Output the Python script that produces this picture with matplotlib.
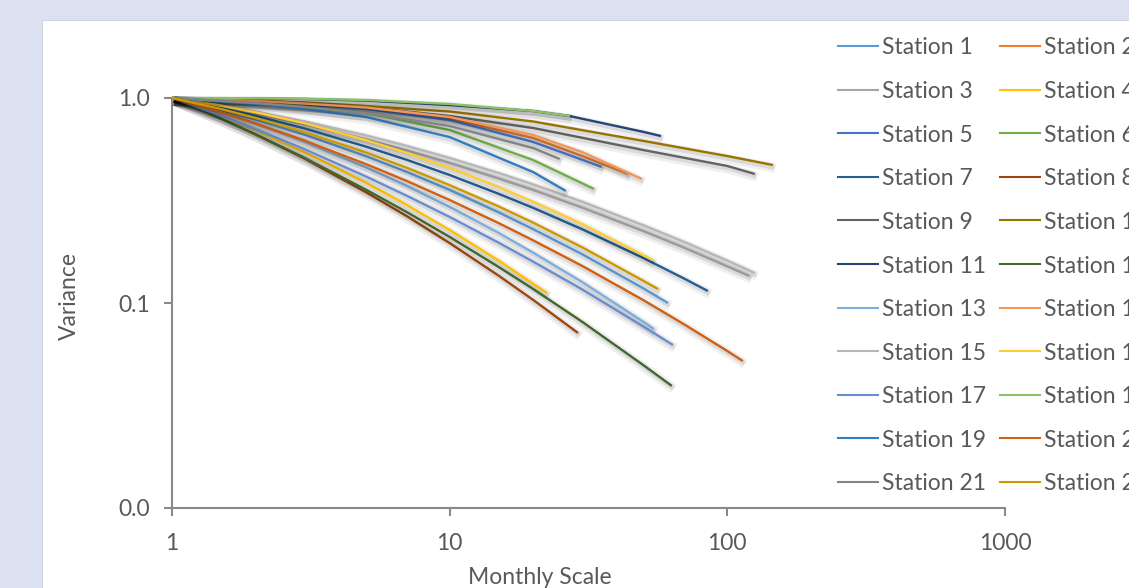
import matplotlib
matplotlib.use("Agg")
import matplotlib.pyplot as plt
from matplotlib import patheffects as pe
from matplotlib.lines import Line2D
from matplotlib.patches import Rectangle
from matplotlib.ticker import FixedLocator, FixedFormatter, NullLocator

plt.rcParams['font.family'] = ['Lato', 'DejaVu Sans']

# ---- data: variance of aggregated series versus monthly scale ----
station_labels = [f"Station {i}" for i in range(1, 23)]

station_colors = [
    "#5B9BD5", "#ED7D31", "#A5A5A5", "#FFC000", "#4472C4", "#70AD47",
    "#255E91", "#9E480E", "#636363", "#997300", "#264478", "#43682B",
    "#7CAFDD", "#F1975A", "#B7B7B7", "#FFCD33", "#698ED0", "#8CC168",
    "#327DC2", "#D26012", "#848484", "#CC9A00",
]

s01_scale = [1, 1.5, 2, 3, 5, 7, 10, 15, 20, 30, 50, 61.1]
s01_var = [1, 0.874, 0.785, 0.663, 0.520, 0.436, 0.356, 0.277, 0.229, 0.173, 0.1175, 0.100]
s02_scale = [1, 2, 3, 5, 10, 20, 30, 44]
s02_var = [1, 0.965, 0.935, 0.894, 0.794, 0.638, 0.521, 0.426]
s03_scale = [1, 1.5, 2, 3, 5, 7, 10, 15, 20, 30, 50, 70, 100, 120]
s03_var = [1, 0.907, 0.840, 0.745, 0.628, 0.555, 0.482, 0.405, 0.356, 0.292, 0.224, 0.186, 0.151, 0.1355]
s04_scale = [1, 1.5, 2, 3, 5, 7, 10, 15, 20, 22.4]
s04_var = [1, 0.816, 0.697, 0.5445, 0.386, 0.301, 0.227, 0.161, 0.124, 0.112]
s05_scale = [1, 2, 3, 5, 10, 20, 35.3]
s05_var = [1, 0.961, 0.930, 0.884, 0.781, 0.610, 0.461]
s06_scale = [1, 2, 3, 5, 10, 20, 33.1]
s06_var = [1, 0.951, 0.909, 0.845, 0.698, 0.498, 0.360]
s07_scale = [1, 1.5, 2, 3, 5, 7, 10, 15, 20, 30, 50, 70, 85.1]
s07_var = [1, 0.894, 0.818, 0.710, 0.579, 0.4995, 0.421, 0.341, 0.291, 0.229, 0.1654, 0.1315, 0.1144]
s08_scale = [1, 1.5, 2, 3, 5, 7, 10, 15, 20, 29]
s08_var = [1, 0.793, 0.664, 0.506, 0.347, 0.2655, 0.196, 0.136, 0.1035, 0.0714]
s09_scale = [1, 2, 3, 5, 10, 20, 50, 100, 125.7]
s09_var = [1, 0.967, 0.940, 0.899, 0.817, 0.714, 0.557, 0.466, 0.426]
s10_scale = [1, 2, 3, 5, 10, 20, 50, 100, 146]
s10_var = [1, 0.972, 0.951, 0.914, 0.859, 0.768, 0.617, 0.521, 0.471]
s11_scale = [1, 2, 3, 5, 10, 20, 27, 50, 57.7]
s11_var = [1, 0.994, 0.989, 0.972, 0.924, 0.864, 0.817, 0.683, 0.652]
s12_scale = [1, 1.5, 2, 3, 5, 7, 10, 15, 20, 30, 50, 63.1]
s12_var = [1, 0.793, 0.665, 0.511, 0.357, 0.278, 0.210, 0.150, 0.117, 0.081, 0.0496, 0.0394]
s13_scale = [1, 1.5, 2, 3, 5, 7, 10, 15, 20, 30, 50, 54.4]
s13_var = [1, 0.851, 0.747, 0.611, 0.459, 0.373, 0.294, 0.220, 0.176, 0.1266, 0.0808, 0.0747]
s14_scale = [1, 2, 3, 5, 10, 20, 30, 49.2]
s14_var = [1, 0.967, 0.940, 0.899, 0.808, 0.660, 0.545, 0.403]
s15_scale = [1, 1.5, 2, 3, 5, 7, 10, 15, 20, 30, 50, 70, 100, 125.7]
s15_var = [1, 0.919, 0.859, 0.770, 0.657, 0.584, 0.510, 0.431, 0.379, 0.312, 0.239, 0.1986, 0.161, 0.140]
s16_scale = [1, 1.5, 2, 3, 5, 7, 10, 15, 20, 30, 50, 54]
s16_var = [1, 0.917, 0.852, 0.753, 0.623, 0.540, 0.456, 0.368, 0.312, 0.243, 0.171, 0.162]
s17_scale = [1, 1.5, 2, 3, 5, 7, 10, 15, 20, 30, 50, 63.7]
s17_var = [1, 0.820, 0.705, 0.563, 0.414, 0.334, 0.263, 0.197, 0.159, 0.1165, 0.0766, 0.0624]
s18_scale = [1, 2, 3, 5, 10, 20, 27.1]
s18_var = [1, 0.997, 0.991, 0.978, 0.935, 0.864, 0.817]
s19_scale = [1, 2, 3, 5, 10, 20, 26.2]
s19_var = [1, 0.935, 0.884, 0.808, 0.645, 0.435, 0.352]
s20_scale = [1, 1.5, 2, 3, 5, 7, 10, 15, 20, 30, 50, 70, 100, 113.8]
s20_var = [1, 0.851, 0.751, 0.620, 0.4755, 0.394, 0.318, 0.2455, 0.202, 0.1517, 0.103, 0.0786, 0.0583, 0.0521]
s21_scale = [1, 2, 3, 5, 10, 20, 24.9]
s21_var = [1, 0.945, 0.904, 0.845, 0.730, 0.570, 0.504]
s22_scale = [1, 1.5, 2, 3, 5, 7, 10, 15, 20, 30, 50, 56.3]
s22_var = [1, 0.884, 0.799, 0.682, 0.542, 0.457, 0.376, 0.296, 0.2465, 0.187, 0.128, 0.117]

x_ticks = [1, 10, 100, 1000]
x_tick_labels = ["1", "10", "100", "1000"]
y_ticks = [0.01, 0.1, 1]
y_tick_labels = ["0.0", "0.1", "1.0"]

series = [
    (s01_scale, s01_var), (s02_scale, s02_var), (s03_scale, s03_var),
    (s04_scale, s04_var), (s05_scale, s05_var), (s06_scale, s06_var),
    (s07_scale, s07_var), (s08_scale, s08_var), (s09_scale, s09_var),
    (s10_scale, s10_var), (s11_scale, s11_var), (s12_scale, s12_var),
    (s13_scale, s13_var), (s14_scale, s14_var), (s15_scale, s15_var),
    (s16_scale, s16_var), (s17_scale, s17_var), (s18_scale, s18_var),
    (s19_scale, s19_var), (s20_scale, s20_var), (s21_scale, s21_var),
    (s22_scale, s22_var),
]

# ---- figure layout (pixel based) ----
W, H = 1129, 588
TEXT = "#595959"
AXIS = "#898989"
FS = 16.5

fig = plt.figure(figsize=(W / 100, H / 100), dpi=100, facecolor="#DBE1F1")

# white chart panel, kept behind the axes
fig.patches.append(Rectangle((42 / W, -0.01), 1.0, 1 - 20 / H + 0.01,
                             transform=fig.transFigure, facecolor="white",
                             edgecolor="#D2D6DE", lw=0.8, zorder=-10))

ax = fig.add_axes([172 / W, 1 - 508 / H, (1005 - 172) / W, 410 / H])
ax.set_zorder(1)
ax.set_facecolor("none")
ax.set_xscale("log")
ax.set_yscale("log")
ax.set_xlim(1, 1000)
ax.set_ylim(0.01, 1)

shadow = [
    pe.SimpleLineShadow(offset=(1.5, -2.2), shadow_color="black", alpha=0.06, linewidth=7),
    pe.SimpleLineShadow(offset=(1.2, -1.8), shadow_color="black", alpha=0.09, linewidth=3.5),
    pe.Normal(),
]

for (xs, ys), color in zip(series, station_colors):
    ax.plot(xs, ys, color=color, lw=1.7, solid_capstyle="butt",
            solid_joinstyle="round", clip_on=False, path_effects=shadow,
            zorder=3)

for side in ("top", "right"):
    ax.spines[side].set_visible(False)
for side in ("left", "bottom"):
    ax.spines[side].set_color(AXIS)
    ax.spines[side].set_linewidth(1.5)

ax.xaxis.set_major_locator(FixedLocator(x_ticks))
ax.xaxis.set_major_formatter(FixedFormatter(x_tick_labels))
ax.yaxis.set_major_locator(FixedLocator(y_ticks))
ax.yaxis.set_major_formatter(FixedFormatter(y_tick_labels))
ax.xaxis.set_minor_locator(NullLocator())
ax.yaxis.set_minor_locator(NullLocator())
ax.tick_params(axis="both", which="major", length=6, width=1.5, color=AXIS,
               labelsize=FS, labelcolor=TEXT, direction="out")
ax.tick_params(axis="x", pad=12)
ax.tick_params(axis="y", pad=10)

fig.text(69 / W, 1 - 296 / H, "Variance", rotation=90, ha="center",
         va="center", fontsize=FS, color=TEXT)
fig.text(540 / W, 1 - 577 / H, "Monthly Scale", ha="center", va="center",
         fontsize=FS, color=TEXT)

# legend: two columns, running past the right edge of the panel
row0, row_step = 46, 43.6
col_line = [(838, 878), (1000, 1040)]
col_text = [882, 1044]
for i, (label, color) in enumerate(zip(station_labels, station_colors)):
    col, row = i % 2, i // 2
    y = 1 - (row0 + row * row_step) / H
    x0, x1 = col_line[col]
    fig.add_artist(Line2D([x0 / W, x1 / W], [y, y], transform=fig.transFigure,
                          color=color, lw=1.5))
    fig.text(col_text[col] / W, y - 2 / H, label, ha="left", va="center",
             fontsize=FS, color=TEXT)

fig.savefig("out.png", dpi=100, facecolor=fig.get_facecolor())
